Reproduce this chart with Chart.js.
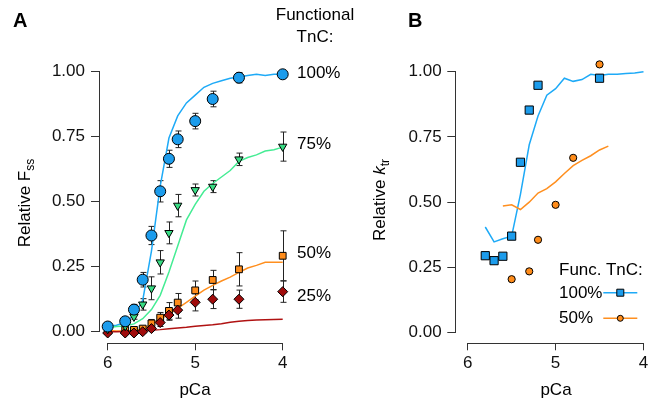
<!DOCTYPE html>
<html>
<head>
<meta charset="utf-8">
<script src="https://cdn.jsdelivr.net/npm/chart.js@4.4.0/dist/chart.umd.min.js"></script>
<style>
  body { margin: 0; background: #fff; }
  #wrap { position: relative; width: 655px; height: 401px; font-family: "Liberation Sans", Arial, sans-serif; color: #000; }
  canvas { position: absolute; top: 0; }
  .lbl { position: absolute; font-size: 17px; line-height: 20px; white-space: nowrap; }
  .panel { position: absolute; font-size: 20px; line-height: 20px; font-weight: bold; }
  .ylab { position: absolute; width: 200px; text-align: center; font-size: 17px; line-height: 20px; transform: rotate(-90deg); white-space: nowrap; }
  sub { font-size: 12px; vertical-align: -4px; line-height: 0; }
</style>
</head>
<body>
<div id="wrap">
  <canvas id="chartA" width="330" height="401" style="left:0"></canvas>
  <canvas id="chartB" width="325" height="401" style="left:330px"></canvas>

  <div class="panel" style="left:13px;top:10px">A</div>
  <div class="panel" style="left:408px;top:10px">B</div>

  <div class="lbl" style="left:265px;top:5px;width:100px;text-align:center">Functional</div>
  <div class="lbl" style="left:265px;top:27px;width:100px;text-align:center">TnC:</div>
  <div class="lbl" style="left:297px;top:63px">100%</div>
  <div class="lbl" style="left:297px;top:134px">75%</div>
  <div class="lbl" style="left:297px;top:243px">50%</div>
  <div class="lbl" style="left:297px;top:286px">25%</div>

  <div class="ylab" style="left:-75px;top:193px">Relative F<sub>ss</sub></div>
  <div class="ylab" style="left:280px;top:190px">Relative <i>k</i><sub>tr</sub></div>
  <div class="lbl" style="left:145px;top:380px;width:100px;text-align:center">pCa</div>
  <div class="lbl" style="left:506px;top:380px;width:100px;text-align:center">pCa</div>

  <div class="lbl" style="left:559px;top:260px">Func. TnC:</div>
  <div class="lbl" style="left:559px;top:283px">100%</div>
  <div class="lbl" style="left:559px;top:308px">50%</div>
</div>

<script>
// panel A: steady-state force, measured points
const pCaA = [6.0, 5.8, 5.7, 5.6, 5.5, 5.4, 5.3, 5.2, 5.0, 4.8, 4.5, 4.0];
const fss100 = [0.02, 0.04, 0.085, 0.20, 0.37, 0.54, 0.665, 0.74, 0.81, 0.895, 0.977, 0.99];
const fss100Err = [0.008, 0.01, 0.02, 0.028, 0.035, 0.041, 0.033, 0.032, 0.03, 0.03, 0.02, 0.0];
const fss75 = [0.01, 0.022, 0.058, 0.105, 0.167, 0.267, 0.38, 0.485, 0.545, 0.558, 0.663, 0.712];
const fss75Err = [0.005, 0.008, 0.01, 0.022, 0.044, 0.045, 0.042, 0.043, 0.023, 0.023, 0.024, 0.056];
const fss50 = [0.003, 0.007, 0.007, 0.012, 0.032, 0.054, 0.08, 0.112, 0.159, 0.199, 0.24, 0.292];
const fss50Err = [0.003, 0.005, 0.006, 0.008, 0.015, 0.02, 0.032, 0.035, 0.036, 0.037, 0.064, 0.096];
const fss25 = [-0.005, -0.005, -0.005, 0.0, 0.012, 0.035, 0.064, 0.083, 0.113, 0.125, 0.125, 0.154];
const fss25Err = [0.003, 0.004, 0.004, 0.005, 0.008, 0.015, 0.02, 0.031, 0.033, 0.036, 0.035, 0.041];

// panel A: model curves
const pCaFit = [6.0, 5.9, 5.8, 5.7, 5.6, 5.5, 5.4, 5.3, 5.2, 5.1, 5.0, 4.9, 4.8, 4.7, 4.6, 4.5, 4.4, 4.3, 4.2, 4.1, 4.0];
const fit100 = [0.02, 0.025, 0.035, 0.065, 0.12, 0.31, 0.56, 0.745, 0.83, 0.88, 0.91, 0.94, 0.955, 0.965, 0.975, 0.98, 0.985, 0.99, 0.985, 0.99, 0.99];
const fit75 = [0.015, 0.02, 0.022, 0.03, 0.05, 0.085, 0.14, 0.23, 0.33, 0.43, 0.49, 0.54, 0.57, 0.595, 0.62, 0.655, 0.67, 0.68, 0.695, 0.70, 0.71];
const fit50 = [0.005, 0.003, 0.003, 0.005, 0.01, 0.03, 0.048, 0.068, 0.09, 0.113, 0.137, 0.16, 0.178, 0.195, 0.21, 0.228, 0.245, 0.255, 0.267, 0.267, 0.267];
const fit25 = [0.0, 0.0, 0.001, 0.002, 0.004, 0.006, 0.008, 0.011, 0.014, 0.017, 0.021, 0.024, 0.027, 0.031, 0.036, 0.04, 0.043, 0.045, 0.046, 0.047, 0.048];

// panel B: ktr points
const pCaB100 = [5.8, 5.7, 5.6, 5.5, 5.4, 5.3, 5.2, 4.5];
const ktr100 = [0.295, 0.276, 0.293, 0.37, 0.653, 0.853, 0.948, 0.975];
const pCaB50 = [5.5, 5.3, 5.2, 5.0, 4.8, 4.5];
const ktr50 = [0.205, 0.235, 0.356, 0.49, 0.67, 1.028];

// panel B: model curves
const pCaSim100 = [5.8, 5.7, 5.6, 5.5, 5.4, 5.3, 5.2, 5.1, 5.0, 4.9, 4.8, 4.7, 4.6, 4.5, 4.4, 4.3, 4.2, 4.1, 4.0];
const sim100 = [0.405, 0.348, 0.36, 0.37, 0.53, 0.72, 0.83, 0.91, 0.935, 0.975, 0.963, 0.97, 0.99, 0.985, 0.99, 0.99, 0.993, 0.995, 1.0];
const pCaSim50 = [5.6, 5.5, 5.4, 5.3, 5.2, 5.1, 5.0, 4.9, 4.8, 4.7, 4.6, 4.5, 4.4];
const sim50 = [0.485, 0.49, 0.472, 0.50, 0.535, 0.552, 0.578, 0.61, 0.64, 0.66, 0.678, 0.70, 0.715];

const pCaTicks = [6, 5, 4];
const yTicks = [0, 0.25, 0.5, 0.75, 1];

const blueFill = '#1c9cec', blueLine = '#1eaaf7';
const greenFill = '#38dc84', greenLine = '#45ec94';
const orangeFill = '#ff8c1a', orangeLine = '#ff8f1f';
const redFill = '#a00c0c', redLine = '#b01212';
const axisCol = '#333';
const fontFam = '"Liberation Sans", Arial, sans-serif';

const pts = (xs, ys) => xs.map((x, i) => ({ x: x, y: ys[i] }));

// R style axes: line only from first to last tick, plus error bars
const rAxes = {
  id: 'rAxes',
  beforeDatasetsDraw(chart) {
    const ctx = chart.ctx, ys = chart.scales.y;
    ctx.save();
    ctx.strokeStyle = '#222';
    ctx.lineWidth = 1;
    chart.data.datasets.forEach((ds, i) => {
      if (!ds.errors) return;
      const meta = chart.getDatasetMeta(i);
      meta.data.forEach((p, j) => {
        const e = ds.errors[j];
        if (!e) return;
        const x = Math.round(p.x) + 0.5;
        const y1 = ys.getPixelForValue(ds.data[j].y + e);
        const y2 = ys.getPixelForValue(ds.data[j].y - e);
        ctx.beginPath();
        ctx.moveTo(x, y1); ctx.lineTo(x, y2);
        ctx.moveTo(x - 3, y1); ctx.lineTo(x + 3, y1);
        ctx.moveTo(x - 3, y2); ctx.lineTo(x + 3, y2);
        ctx.stroke();
      });
    });
    ctx.restore();
  },
  afterDraw(chart) {
    const ctx = chart.ctx, xs = chart.scales.x, ys = chart.scales.y, a = chart.chartArea;
    ctx.save();
    ctx.strokeStyle = axisCol;
    ctx.lineWidth = 1;
    const lx = Math.round(a.left) - 0.5;
    ctx.beginPath();
    ctx.moveTo(lx, ys.getPixelForValue(0));
    ctx.lineTo(lx, ys.getPixelForValue(1));
    const by = Math.round(a.bottom) + 0.5;
    ctx.moveTo(xs.getPixelForValue(6), by);
    ctx.lineTo(xs.getPixelForValue(4), by);
    ctx.stroke();

    const lg = chart.options.plugins.rLegend;
    if (lg) {
      lg.items.forEach(it => {
        ctx.strokeStyle = it.line;
        ctx.lineWidth = 1.5;
        ctx.beginPath();
        ctx.moveTo(lg.x1, it.y); ctx.lineTo(lg.x2, it.y);
        ctx.stroke();
        ctx.fillStyle = it.fill;
        ctx.strokeStyle = '#000';
        ctx.lineWidth = 1;
        const cx = (lg.x1 + lg.x2) / 2;
        ctx.beginPath();
        if (it.shape === 'rect') ctx.rect(cx - 3.5, it.y - 3.5, 7, 7);
        else ctx.arc(cx, it.y, 3, 0, Math.PI * 2);
        ctx.fill(); ctx.stroke();
      });
    }
    ctx.restore();
  }
};

function scalesFor(xMin, xMax, yMin, yMax, yWidth, yPad) {
  const tickFont = { family: fontFam, size: 17 };
  return {
    x: {
      type: 'linear', reverse: true, min: xMin, max: xMax,
      afterBuildTicks: s => { s.ticks = pCaTicks.map(v => ({ value: v })); },
      afterFit: s => { s.height = 57.7; },
      grid: { display: true, drawOnChartArea: false, drawTicks: true, tickLength: 7, color: axisCol },
      border: { display: false },
      ticks: { font: tickFont, color: '#111', padding: 3, maxRotation: 0, callback: v => String(v) }
    },
    y: {
      type: 'linear', min: yMin, max: yMax,
      afterBuildTicks: s => { s.ticks = yTicks.map(v => ({ value: v })); },
      afterFit: s => { s.width = yWidth; },
      grid: { display: true, drawOnChartArea: false, drawTicks: true, tickLength: 9, color: axisCol },
      border: { display: false },
      ticks: { font: tickFont, color: '#111', padding: yPad, callback: v => v.toFixed(2) }
    }
  };
}

const lineDs = (xs, ys, col) => ({
  data: pts(xs, ys), showLine: true, borderColor: col, borderWidth: 1.5,
  pointRadius: 0, fill: false, order: 10
});

const markDs = (xs, ys, errs, fill, style, r, order, rot) => ({
  data: pts(xs, ys), errors: errs, showLine: false,
  pointStyle: style, pointRadius: r, pointRotation: rot || 0,
  backgroundColor: fill, borderColor: '#000', borderWidth: 1, order: order
});

new Chart(document.getElementById('chartA'), {
  type: 'scatter',
  data: {
    datasets: [
      lineDs(pCaFit, fit25, redLine),
      lineDs(pCaFit, fit50, orangeLine),
      lineDs(pCaFit, fit75, greenLine),
      lineDs(pCaFit, fit100, blueLine),
      markDs(pCaA, fss50, fss50Err, orangeFill, 'rect', 4.8, 4),
      markDs(pCaA, fss25, fss25Err, redFill, 'rectRot', 5, 3),
      markDs(pCaA, fss75, fss75Err, greenFill, 'triangle', 4.8, 2, 180),
      markDs(pCaA, fss100, fss100Err, blueFill, 'circle', 5.5, 1)
    ]
  },
  options: {
    responsive: false, animation: false,
    layout: { padding: { left: 0, right: 40, top: 60, bottom: 0 } },
    plugins: { legend: { display: false }, tooltip: { enabled: false } },
    scales: scalesFor(3.9166, 6.088, -0.0446, 1.045, 100, 6)
  },
  plugins: [rAxes]
});

new Chart(document.getElementById('chartB'), {
  type: 'scatter',
  data: {
    datasets: [
      lineDs(pCaSim50, sim50, orangeLine),
      lineDs(pCaSim100, sim100, blueLine),
      markDs(pCaB50, ktr50, null, orangeFill, 'circle', 3.6, 2),
      markDs(pCaB100, ktr100, null, blueFill, 'rect', 5.8, 1)
    ]
  },
  options: {
    responsive: false, animation: false,
    layout: { padding: { left: 0, right: 8, top: 60, bottom: 0 } },
    plugins: {
      legend: { display: false }, tooltip: { enabled: false },
      rLegend: {
        x1: 273.3, x2: 307.3,
        items: [
          { y: 292.7, line: blueLine, fill: blueFill, shape: 'rect' },
          { y: 318.3, line: orangeLine, fill: orangeFill, shape: 'circle' }
        ]
      }
    },
    scales: scalesFor(3.9602, 6.1297, -0.0406, 1.0448, 126.3, 5.6)
  },
  plugins: [rAxes]
});
</script>
</body>
</html>
